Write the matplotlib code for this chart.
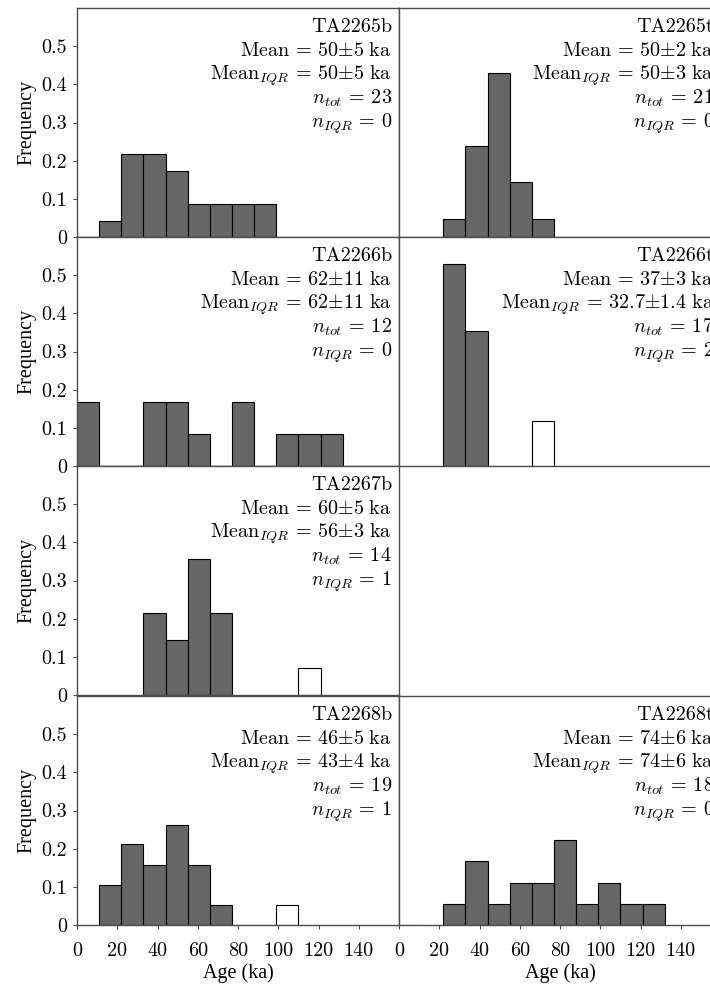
import matplotlib
matplotlib.use('Agg')
import matplotlib.pyplot as plt
import numpy as np

plt.rcParams['font.family'] = 'cmr10'
plt.rcParams['mathtext.fontset'] = 'cm'
plt.rcParams['axes.unicode_minus'] = False

bin_width = 11

samples = ['TA2265b', 'TA2265t', 'TA2266b', 'TA2266t',
           'TA2267b', None, 'TA2268b', 'TA2268t']

# bin heights from bin 0 upward; None = bin not drawn
freq_2265b = [0, 0.043, 0.217, 0.217, 0.174, 0.087, 0.087, 0.087, 0.087]
freq_2265t = [None, None, 0.048, 0.238, 0.429, 0.143, 0.048]
freq_2266b = [0.167, 0, 0, 0.167, 0.167, 0.083, 0, 0.167, 0, 0.083, 0.083, 0.083]
freq_2266t = [None, None, 0.529, 0.353, 0, 0]
freq_2267b = [None, None, None, 0.214, 0.143, 0.357, 0.214]
freq_2268b = [None, 0.105, 0.211, 0.158, 0.263, 0.158, 0.053, 0, 0]
freq_2268t = [0, None, 0.056, 0.167, 0.056, 0.111, 0.111, 0.222, 0.056,
              0.111, 0.056, 0.056]

# rejected (outside IQR) bins: {bin index: height}
out_2266t = {6: 0.118}
out_2267b = {10: 0.071}
out_2268b = {9: 0.053}

freqs = [freq_2265b, freq_2265t, freq_2266b, freq_2266t,
         freq_2267b, None, freq_2268b, freq_2268t]
outliers = [{}, {}, {}, out_2266t, out_2267b, None, out_2268b, {}]

mean_txt = ['50{\\pm}5', '50{\\pm}2', '62{\\pm}11', '37{\\pm}3',
            '60{\\pm}5', None, '46{\\pm}5', '74{\\pm}6']
mean_iqr_txt = ['50{\\pm}5', '50{\\pm}3', '62{\\pm}11', '32.7{\\pm}1.4',
                '56{\\pm}3', None, '43{\\pm}4', '74{\\pm}6']
n_tot = [23, 21, 12, 17, 14, None, 19, 18]
n_iqr = [0, 0, 0, 2, 1, None, 1, 0]

fig = plt.figure(figsize=(7.1, 9.9), dpi=100)

W, H = 710, 990
ax_w = 322
ax_h = 229
lefts = [77, 399]
tops = [8, 237, 466, 696]

spine_col = '0.3'

for k in range(8):
    row, col = divmod(k, 2)
    if samples[k] is None:
        continue
    ax = fig.add_axes([lefts[col] / W, (H - tops[row] - ax_h) / H,
                       ax_w / W, ax_h / H])
    f = freqs[k]
    for i, h in enumerate(f):
        if h is None:
            continue
        ax.bar(i * bin_width, h, width=bin_width, align='edge',
               color='#666666', edgecolor='black', linewidth=0.8, zorder=2)
    for i, h in outliers[k].items():
        ax.bar(i * bin_width, h, width=bin_width, align='edge',
               color='white', edgecolor='black', linewidth=0.8, zorder=2)

    ax.set_xlim(0, 160)
    ax.set_ylim(0, 0.6)
    ax.set_xticks(np.arange(0, 141, 20))
    ax.set_yticks([0, 0.1, 0.2, 0.3, 0.4, 0.5])
    ax.set_yticklabels(['0', '0.1', '0.2', '0.3', '0.4', '0.5'])
    ax.tick_params(direction='out', length=3, width=0.8, color=spine_col,
                   labelsize=14.5, pad=4)
    ax.tick_params(axis='x', pad=9)
    for s in ax.spines.values():
        s.set_color(spine_col)
        s.set_linewidth(1.0)

    if col == 1:
        ax.tick_params(axis='y', left=False, labelleft=False)
    else:
        ax.set_ylabel('Frequency', family='Liberation Serif', fontsize=14.5,
                      labelpad=4)
    if row < 3:
        ax.tick_params(axis='x', bottom=False, labelbottom=False)
    else:
        ax.set_xlabel('Age (ka)', family='Liberation Serif', fontsize=14.5,
                      labelpad=3)

    lines = [samples[k],
             r'$\mathrm{Mean}\,=\,' + mean_txt[k] + r'\ \mathrm{ka}$',
             r'$\mathrm{Mean}_{IQR}\,=\,' + mean_iqr_txt[k] + r'\ \mathrm{ka}$',
             r'$n_{tot}\,=\,%d$' % n_tot[k],
             r'$n_{IQR}\,=\,%d$' % n_iqr[k]]
    ys = [0.897, 0.792, 0.687, 0.582, 0.477]
    for txt, y in zip(lines, ys):
        ax.text(0.978, y, txt, transform=ax.transAxes, ha='right',
                va='baseline', fontsize=14.5)

fig.savefig('out.png', dpi=100)
